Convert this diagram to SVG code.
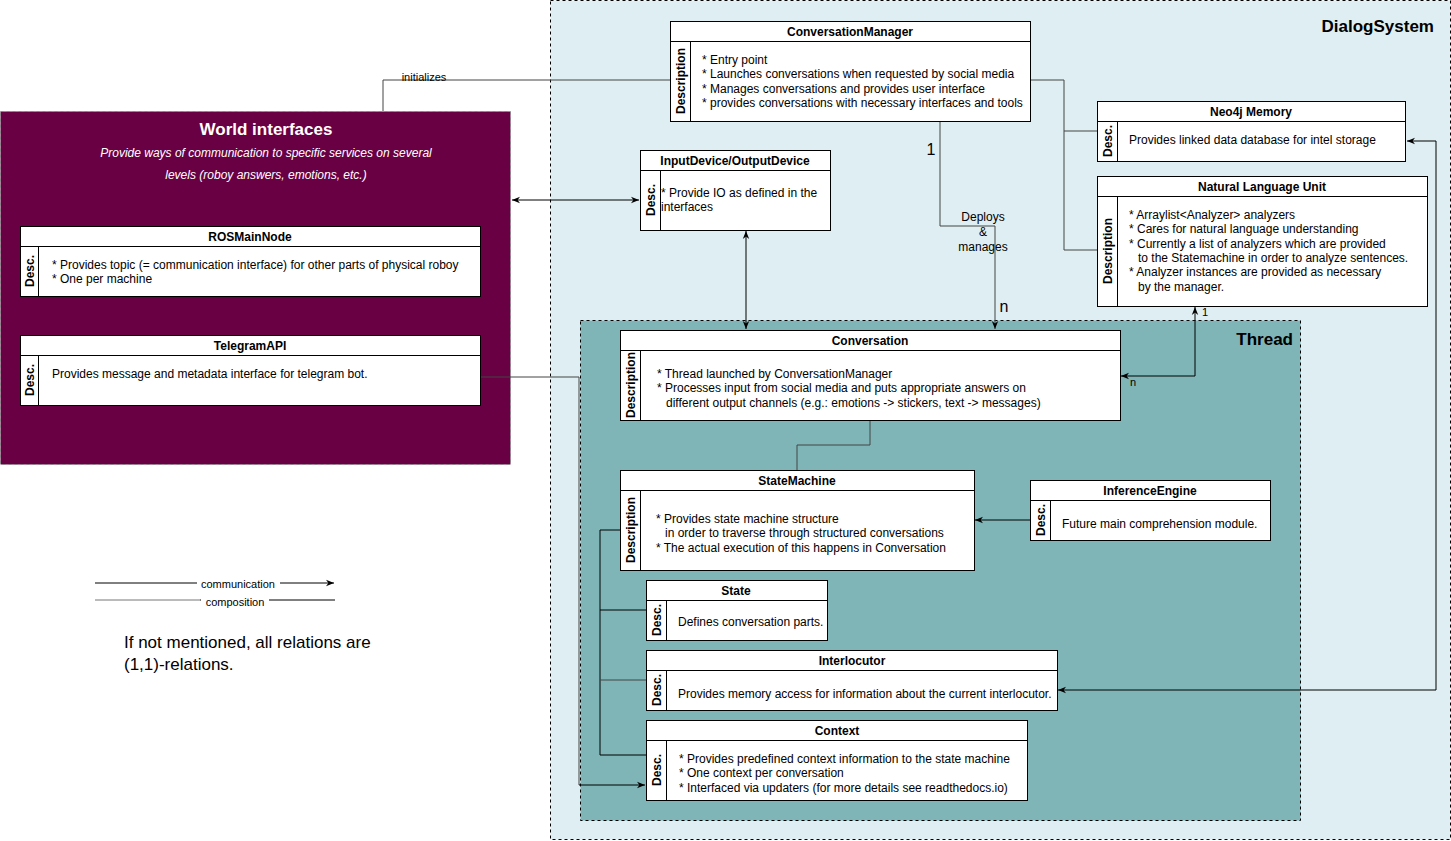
<svg xmlns="http://www.w3.org/2000/svg" width="1451" height="841" viewBox="0 0 1451 841">
<style>
text{font-family:"Liberation Sans",Arial,sans-serif;font-size:12px;fill:#000}
.box{fill:#fff;stroke:#000;stroke-width:1}
.h{font-weight:bold;text-anchor:middle}
.v{font-weight:bold;text-anchor:middle}
.c{fill:none;stroke:#000;stroke-width:1}
.g{fill:none;stroke:#444;stroke-width:1}
</style>
<defs>
<marker id="a" viewBox="0 0 10 10" refX="10" refY="5" markerWidth="8" markerHeight="8" orient="auto-start-reverse"><path d="M0,1 L10,5 L0,9 L3,5 Z" fill="#000"/></marker>
</defs>
<rect x="0" y="0" width="1451" height="841" fill="#fff"/>
<g id="dialogsystem"><rect x="550.5" y="0.5" width="900" height="839" fill="#dfeef2" stroke="#000" stroke-dasharray="3,3"/><text x="1434" y="32" text-anchor="end" style="font-size:17px;font-weight:bold">DialogSystem</text></g>
<g id="thread"><rect x="580.5" y="320.5" width="720" height="500" fill="#7fb5b7" stroke="#000" stroke-dasharray="3,3"/><text x="1293" y="345" text-anchor="end" style="font-size:17px;font-weight:bold">Thread</text></g>
<g id="world"><rect x="0.5" y="111.5" width="510" height="353" fill="#690044" stroke="#888" stroke-dasharray="3,3"/><text x="266" y="135" text-anchor="middle" style="font-size:17px;font-weight:bold;fill:#fff">World interfaces</text><text x="266" y="157" text-anchor="middle" style="font-style:italic;fill:#fff">Provide ways of communication to specific services on several</text><text x="266" y="179" text-anchor="middle" style="font-style:italic;fill:#fff">levels (roboy answers, emotions, etc.)</text></g>

<g id="connectors">
<polyline class="g" points="383,111 383,80 670,80"/>
<text x="424" y="81" text-anchor="middle" style="font-size:11px">initializes</text>
<line class="c" x1="512" y1="200" x2="639" y2="200" marker-start="url(#a)" marker-end="url(#a)"/>
<line class="c" x1="746" y1="231" x2="746" y2="329" marker-start="url(#a)" marker-end="url(#a)"/>
<polyline class="g" points="940,122 940,226 995,226 995,329" marker-end="url(#a)"/>
<text x="931" y="155" text-anchor="middle" style="font-size:16px">1</text>
<text x="983" y="221" text-anchor="middle">Deploys</text>
<text x="983" y="236" text-anchor="middle">&amp;</text>
<text x="983" y="251" text-anchor="middle">manages</text>
<text x="1004" y="312" text-anchor="middle" style="font-size:16px">n</text>
<polyline class="g" points="1030,80 1064,80 1064,250 1097,250"/>
<polyline class="g" points="1064,131 1097,131"/>
<polyline class="c" points="1195,307 1195,376 1121,376" marker-start="url(#a)" marker-end="url(#a)"/>
<text x="1205" y="316" text-anchor="middle" style="font-size:11px">1</text>
<text x="1133" y="386" text-anchor="middle" style="font-size:11px">n</text>
<polyline class="c" points="1407,141 1436,141 1436,690 1058,690" marker-start="url(#a)" marker-end="url(#a)"/>
<polyline class="g" points="870,420 870,445 797,445 797,470"/>
<polyline class="c" points="620,530 600,530 600,755 646,755"/>
<line class="c" x1="600" y1="610" x2="646" y2="610"/>
<line class="g" x1="600" y1="680" x2="646" y2="680"/>
<polyline class="g" points="480,377 579,377 579,785"/>
<line class="c" x1="579" y1="785" x2="645" y2="785" marker-end="url(#a)"/>
<line class="c" x1="1030" y1="520" x2="975" y2="520" marker-end="url(#a)"/>
</g>

<g id="ConversationManager"><rect class="box" x="670.5" y="21.5" width="360" height="100"/><line class="c" x1="670" y1="41.5" x2="1030" y2="41.5"/><line class="c" x1="690.5" y1="41" x2="690.5" y2="121"/><text class="h" x="850" y="36">ConversationManager</text><text class="v" transform="translate(685,81) rotate(-90)">Description</text><text x="702" y="64">* Entry point</text><text x="702" y="78">* Launches conversations when requested by social media</text><text x="702" y="93">* Manages conversations and provides user interface</text><text x="702" y="107">* provides conversations with necessary interfaces and tools</text></g>

<g id="InputDevice"><rect class="box" x="640.5" y="150.5" width="190" height="80"/><line class="c" x1="640" y1="170.5" x2="830" y2="170.5"/><line class="c" x1="660.5" y1="170" x2="660.5" y2="230"/><text class="h" x="735" y="165">InputDevice/OutputDevice</text><text class="v" transform="translate(655,200) rotate(-90)">Desc.</text><text x="661" y="197">* Provide IO as defined in the</text><text x="661" y="211">interfaces</text></g>

<g id="Neo4j"><rect class="box" x="1097.5" y="101.5" width="308" height="60"/><line class="c" x1="1097" y1="121.5" x2="1405" y2="121.5"/><line class="c" x1="1117.5" y1="121" x2="1117.5" y2="161"/><text class="h" x="1251" y="116">Neo4j Memory</text><text class="v" transform="translate(1112,141) rotate(-90)">Desc.</text><text x="1129" y="144">Provides linked data database for intel storage</text></g>

<g id="NLU"><rect class="box" x="1097.5" y="176.5" width="330" height="130"/><line class="c" x1="1097" y1="196.5" x2="1427" y2="196.5"/><line class="c" x1="1117.5" y1="196" x2="1117.5" y2="306"/><text class="h" x="1262" y="191">Natural Language Unit</text><text class="v" transform="translate(1112,251) rotate(-90)">Description</text><text x="1129" y="219">* Arraylist&lt;Analyzer&gt; analyzers</text><text x="1129" y="233">* Cares for natural language understanding</text><text x="1129" y="248">* Currently a list of analyzers which are provided</text><text x="1138" y="262">to the Statemachine in order to analyze sentences.</text><text x="1129" y="276">* Analyzer instances are provided as necessary</text><text x="1138" y="291">by the manager.</text></g>

<g id="ROSMainNode"><rect class="box" x="20.5" y="226.5" width="460" height="70"/><line class="c" x1="20" y1="246.5" x2="480" y2="246.5"/><line class="c" x1="38.5" y1="246" x2="38.5" y2="296"/><text class="h" x="250" y="241">ROSMainNode</text><text class="v" transform="translate(34,271) rotate(-90)">Desc.</text><text x="52" y="269">* Provides topic (= communication interface) for other parts of physical roboy</text><text x="52" y="283">* One per machine</text></g>

<g id="TelegramAPI"><rect class="box" x="20.5" y="335.5" width="460" height="70"/><line class="c" x1="20" y1="355.5" x2="480" y2="355.5"/><line class="c" x1="38.5" y1="355" x2="38.5" y2="405"/><text class="h" x="250" y="350">TelegramAPI</text><text class="v" transform="translate(34,380) rotate(-90)">Desc.</text><text x="52" y="378">Provides message and metadata interface for telegram bot.</text></g>

<g id="Conversation"><rect class="box" x="620.5" y="330.5" width="500" height="90"/><line class="c" x1="620" y1="350.5" x2="1120" y2="350.5"/><line class="c" x1="640.5" y1="350" x2="640.5" y2="420"/><text class="h" x="870" y="345">Conversation</text><text class="v" transform="translate(635,385) rotate(-90)">Description</text><text x="657" y="378">* Thread launched by ConversationManager</text><text x="657" y="392">* Processes input from social media and puts appropriate answers on</text><text x="666" y="407">different output channels (e.g.: emotions -&gt; stickers, text -&gt; messages)</text></g>

<g id="StateMachine"><rect class="box" x="620.5" y="470.5" width="354" height="100"/><line class="c" x1="620" y1="490.5" x2="974" y2="490.5"/><line class="c" x1="640.5" y1="490" x2="640.5" y2="570"/><text class="h" x="797" y="485">StateMachine</text><text class="v" transform="translate(635,530) rotate(-90)">Description</text><text x="656" y="523">* Provides state machine structure</text><text x="665" y="537">in order to traverse through structured conversations</text><text x="656" y="552">* The actual execution of this happens in Conversation</text></g>

<g id="InferenceEngine"><rect class="box" x="1030.5" y="480.5" width="240" height="60"/><line class="c" x1="1030" y1="500.5" x2="1270" y2="500.5"/><line class="c" x1="1050.5" y1="500" x2="1050.5" y2="540"/><text class="h" x="1150" y="495">InferenceEngine</text><text class="v" transform="translate(1045,520) rotate(-90)">Desc.</text><text x="1062" y="528">Future main comprehension module.</text></g>

<g id="State"><rect class="box" x="646.5" y="580.5" width="181" height="60"/><line class="c" x1="646" y1="600.5" x2="827" y2="600.5"/><line class="c" x1="666.5" y1="600" x2="666.5" y2="640"/><text class="h" x="736" y="595">State</text><text class="v" transform="translate(661,620) rotate(-90)">Desc.</text><text x="678" y="626">Defines conversation parts.</text></g>

<g id="Interlocutor"><rect class="box" x="646.5" y="650.5" width="411" height="60"/><line class="c" x1="646" y1="670.5" x2="1057" y2="670.5"/><line class="c" x1="666.5" y1="670" x2="666.5" y2="710"/><text class="h" x="852" y="665">Interlocutor</text><text class="v" transform="translate(661,690) rotate(-90)">Desc.</text><text x="678" y="698">Provides memory access for information about the current interlocutor.</text></g>

<g id="Context"><rect class="box" x="646.5" y="720.5" width="381" height="80"/><line class="c" x1="646" y1="740.5" x2="1027" y2="740.5"/><line class="c" x1="666.5" y1="740" x2="666.5" y2="800"/><text class="h" x="837" y="735">Context</text><text class="v" transform="translate(661,770) rotate(-90)">Desc.</text><text x="679" y="763">* Provides predefined context information to the state machine</text><text x="679" y="777">* One context per conversation</text><text x="679" y="792">* Interfaced via updaters (for more details see readthedocs.io)</text></g>

<g id="legend">
<line class="c" x1="95" y1="583" x2="334" y2="583" marker-end="url(#a)"/>
<rect x="197" y="577" width="83" height="12" fill="#fff"/>
<text x="238" y="588" text-anchor="middle" style="font-size:11px">communication</text>
<line x1="95" y1="600" x2="200" y2="600" stroke="#777"/>
<line class="c" x1="200" y1="600" x2="335" y2="600"/>
<rect x="201" y="594" width="68" height="12" fill="#fff"/>
<text x="235" y="606" text-anchor="middle" style="font-size:11px">composition</text>
<text x="124" y="648" style="font-size:17px">If not mentioned, all relations are</text>
<text x="124" y="670" style="font-size:17px">(1,1)-relations.</text>
</g>
</svg>
